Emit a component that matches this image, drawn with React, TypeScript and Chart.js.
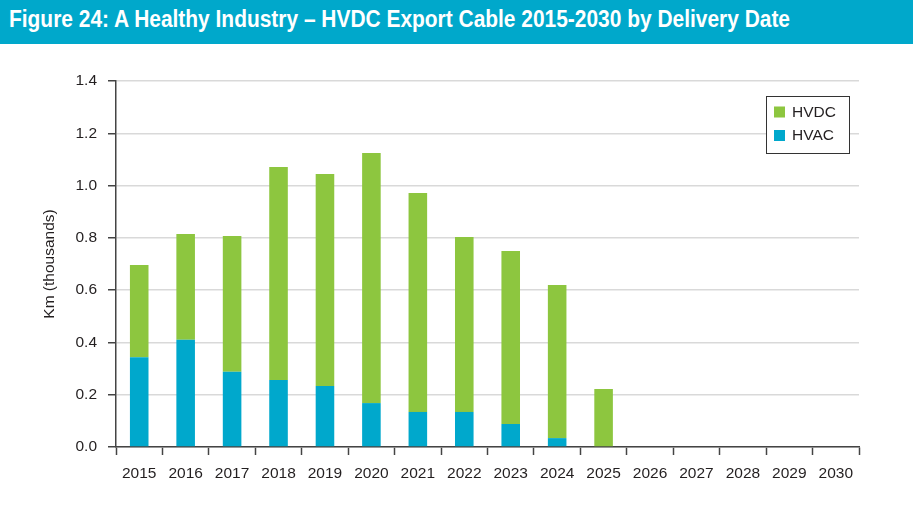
import React, { useEffect, useRef } from "react";
import { Chart, registerables } from "chart.js";

Chart.register(...registerables);

const TITLE = "Figure 24: A Healthy Industry – HVDC Export Cable 2015-2030 by Delivery Date";
const categories = ["2015", "2016", "2017", "2018", "2019", "2020", "2021", "2022", "2023", "2024", "2025", "2026", "2027", "2028", "2029", "2030"];
const hvacValues = [0.343, 0.41, 0.288, 0.256, 0.233, 0.168, 0.134, 0.134, 0.088, 0.034, 0, 0, 0, 0, 0, 0];
const hvdcValues = [0.353, 0.405, 0.519, 0.815, 0.811, 0.957, 0.838, 0.669, 0.662, 0.586, 0.222, 0, 0, 0, 0, 0];
const yTicks = [0, 0.2, 0.4, 0.6, 0.8, 1.0, 1.2, 1.4];
const yTitle = "Km (thousands)";

const GREEN = "#8dc63f";
const BLUE = "#00a8cc";
const TEXT = "#231f20";
const FONT = "'Liberation Sans', Arial, Helvetica, sans-serif";

const legendBoxPlugin = {
  id: "legendBox",
  afterDraw(chart: any) {
    const { ctx, chartArea } = chart;
    const w = 83;
    const h = 57;
    const x = chartArea.right - 10 - w;
    const y = chartArea.top + 15;
    ctx.save();
    ctx.fillStyle = "#ffffff";
    ctx.fillRect(x, y, w, h);
    ctx.strokeStyle = "#333333";
    ctx.lineWidth = 1;
    ctx.strokeRect(Math.round(x) + 0.5, Math.round(y) + 0.5, w, h);
    const items = [...chart.data.datasets].reverse();
    ctx.font = `15.5px ${FONT}`;
    ctx.textBaseline = "middle";
    ctx.textAlign = "left";
    items.forEach((ds: any, i: number) => {
      const cy = y + 16 + i * 23.5;
      ctx.fillStyle = ds.backgroundColor;
      ctx.fillRect(x + 8, cy - 5.5, 11, 11);
      ctx.fillStyle = TEXT;
      ctx.fillText(ds.label, x + 26, cy + 0.5);
    });
    ctx.restore();
  },
};

export default function App() {
  const canvasRef = useRef<HTMLCanvasElement | null>(null);
  const titleRef = useRef<HTMLSpanElement | null>(null);

  useEffect(() => {
    document.body.style.margin = "0";
    if (titleRef.current) {
      const el = titleRef.current;
      el.style.transform = "none";
      const wdt = el.getBoundingClientRect().width;
      if (wdt > 0) el.style.transform = `scaleX(${781 / wdt})`;
    }
    const canvas = canvasRef.current;
    if (!canvas) return;
    const chart = new Chart(canvas, {
      type: "bar",
      data: {
        labels: categories,
        datasets: [
          { label: "HVAC", data: hvacValues, backgroundColor: BLUE, borderWidth: 0 },
          { label: "HVDC", data: hvdcValues, backgroundColor: GREEN, borderWidth: 0 },
        ],
      },
      options: {
        animation: false,
        responsive: false,
        maintainAspectRatio: false,
        layout: { padding: { top: 37, right: 54, left: 0, bottom: 0 } },
        datasets: { bar: { barPercentage: 0.4, categoryPercentage: 1 } },
        plugins: {
          legend: { display: false },
          tooltip: { enabled: false },
          title: { display: false },
        },
        scales: {
          x: {
            stacked: true,
            grid: {
              display: true,
              drawOnChartArea: false,
              offset: true,
              tickLength: 8,
              tickColor: "#444444",
              tickWidth: 1.5,
            },
            border: { display: true, color: "#444444", width: 1.5 },
            ticks: { color: TEXT, font: { size: 15.5, family: FONT }, padding: 9, maxRotation: 0, autoSkip: false },
            afterFit: (s: any) => { s.height = 63; },
          },
          y: {
            stacked: true,
            min: 0,
            max: 1.4,
            afterBuildTicks: (s: any) => { s.ticks = yTicks.map((v) => ({ value: v })); },
            grid: {
              color: "#d9d9d9",
              lineWidth: 1.5,
              tickLength: 8,
              tickColor: "#444444",
              tickWidth: 1.5,
            },
            border: { display: true, color: "#444444", width: 1.5 },
            ticks: {
              color: TEXT,
              font: { size: 15.5, family: FONT },
              padding: 11,
              callback: (v: any) => Number(v).toFixed(1),
            },
            title: {
              display: true,
              text: yTitle,
              color: TEXT,
              font: { size: 15.5, family: FONT },
              padding: { top: 40, bottom: 0 },
            },
            afterFit: (s: any) => { s.width = 116; },
          },
        },
      },
      plugins: [legendBoxPlugin],
    });
    return () => chart.destroy();
  }, []);

  return (
    <div style={{ position: "relative", width: 913, height: 510, background: "#ffffff", overflow: "hidden" }}>
      <div style={{ position: "absolute", left: 0, top: 0, width: 913, height: 44, background: "#00a8cb" }}>
        <span
          ref={titleRef}
          style={{
            position: "absolute",
            left: 9,
            top: 7.5,
            fontFamily: FONT,
            fontWeight: "bold",
            fontSize: 23,
            lineHeight: "23px",
            color: "#ffffff",
            whiteSpace: "nowrap",
            display: "inline-block",
            transformOrigin: "left center",
          }}
        >
          {TITLE}
        </span>
      </div>
      <canvas ref={canvasRef} width={913} height={466} style={{ position: "absolute", left: 0, top: 44, width: 913, height: 466 }} />
    </div>
  );
}
